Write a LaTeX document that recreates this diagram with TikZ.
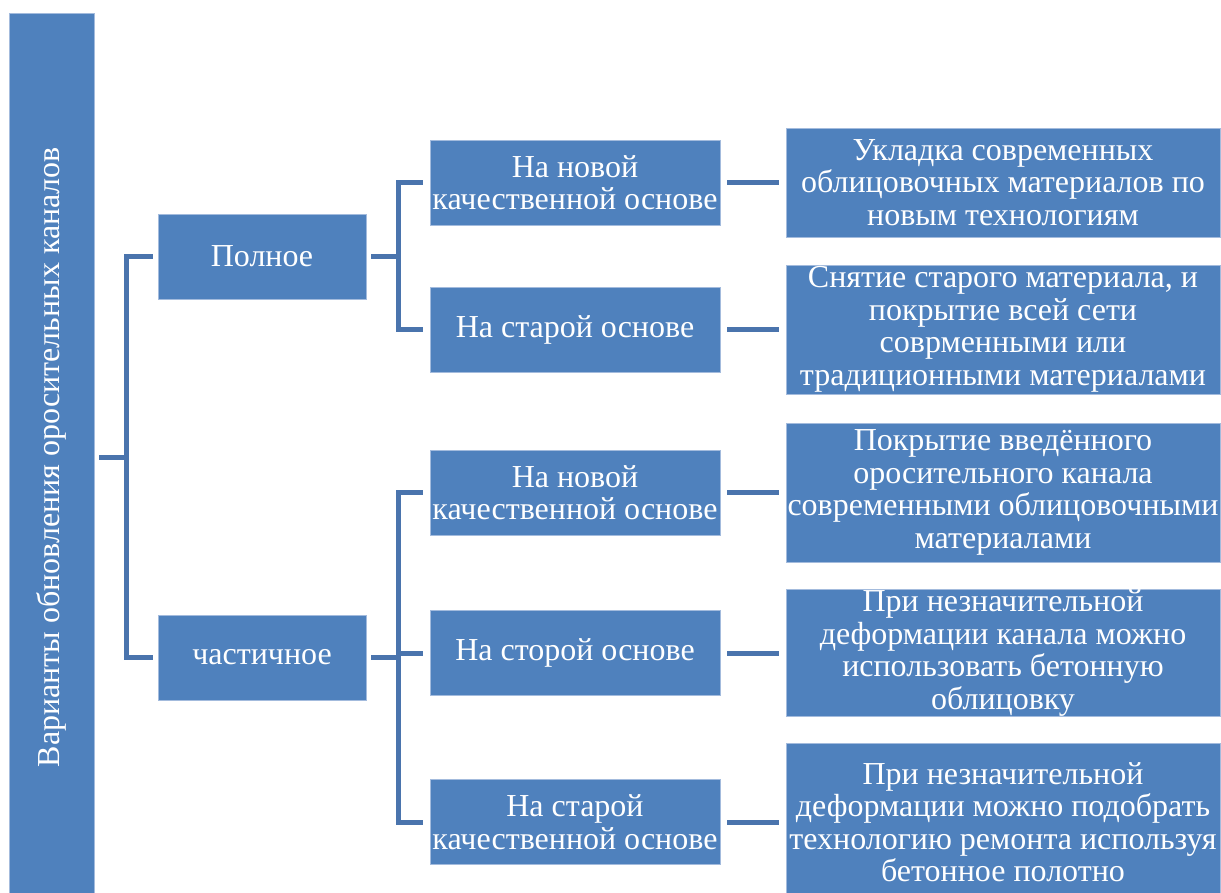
\documentclass[tikz,border=0pt]{standalone}
\usepackage{fontspec}
\setmainfont{Liberation Serif}
\definecolor{boxfill}{HTML}{4F81BD}
\definecolor{boxedge}{HTML}{A3BBDD}
\definecolor{conncol}{HTML}{4A74AD}
\tikzset{
  box/.style={fill=boxfill, draw=boxedge, line width=0.7pt, text=white, align=center, inner sep=0pt,
    font=\fontsize{32}{32.5}\selectfont},
  conn/.style={draw=conncol, line width=5pt, line cap=butt, line join=miter},
}
\begin{document}
\begin{tikzpicture}[x=1pt,y=-1pt]
\useasboundingbox (0,0) rectangle (1221,893);
% root
\node[box, rotate=90, minimum width=888, minimum height=85] (root) at (51.5,457) {Варианты обновления оросительных каналов};
% level 1
\node[box, minimum width=208, minimum height=85] (pol) at (262,256.5) {Полное};
\node[box, minimum width=208, minimum height=85] (chast) at (262,657.5) {частичное};
% level 2
\node[box, minimum width=290, minimum height=85] (a1) at (575,182.5) {На новой\\качественной основе};
\node[box, minimum width=290, minimum height=85] (a2) at (575,329.5) {На старой основе};
\node[box, minimum width=290, minimum height=85] (b1) at (575,492.5) {На новой\\качественной основе};
\node[box, minimum width=290, minimum height=85] (b2) at (575,653) {На сторой основе};
\node[box, minimum width=290, minimum height=85] (b3) at (575,822) {На старой\\качественной основе};
% level 3
\node[box, minimum width=434, minimum height=109] (c1) at (1003,182.5) {Укладка современных\\облицовочных материалов по\\новым технологиям};
\node[box, minimum width=434, minimum height=129] (c2) at (1003,329.5) {Снятие старого материала, и\\покрытие всей сети\\соврменными или\\традиционными материалами};
\node[box, minimum width=434, minimum height=139] (c3) at (1003,492.5) {Покрытие введённого\\оросительного канала\\современными облицовочными\\материалами};
\node[box, minimum width=434, minimum height=126] (c4) at (1003,653) {При незначительной\\деформации канала можно\\использовать бетонную\\облицовку};
\node[box, minimum width=434, minimum height=158] (c5) at (1003,822) {При незначительной\\деформации можно подобрать\\технологию ремонта используя\\бетонное полотно};
% connectors
\coordinate (j0) at (126,457);
\coordinate (j1) at (398,256.5);
\coordinate (j2) at (398,657.5);
\draw[conn] ([xshift=5]root.south) -- (j0);
\draw[conn] (j0) |- ([xshift=-5]pol.west);
\draw[conn] (j0) |- ([xshift=-5]chast.west);
\draw[conn] ([xshift=5]pol.east) -- (j1);
\draw[conn] (j1) |- ([xshift=-7]a1.west);
\draw[conn] (j1) |- ([xshift=-7]a2.west);
\draw[conn] ([xshift=5]chast.east) -- (j2);
\draw[conn] (j2) |- ([xshift=-7]b1.west);
\draw[conn] (j2) |- ([xshift=-7]b2.west);
\draw[conn] (j2) |- ([xshift=-7]b3.west);
\draw[conn] ([xshift=7]a1.east) -- ([xshift=-7]c1.west);
\draw[conn] ([xshift=7]a2.east) -- ([xshift=-7]c2.west);
\draw[conn] ([xshift=7]b1.east) -- ([xshift=-7]c3.west);
\draw[conn] ([xshift=7]b2.east) -- ([xshift=-7]c4.west);
\draw[conn] ([xshift=7]b3.east) -- ([xshift=-7]c5.west);
\end{tikzpicture}
\end{document}
